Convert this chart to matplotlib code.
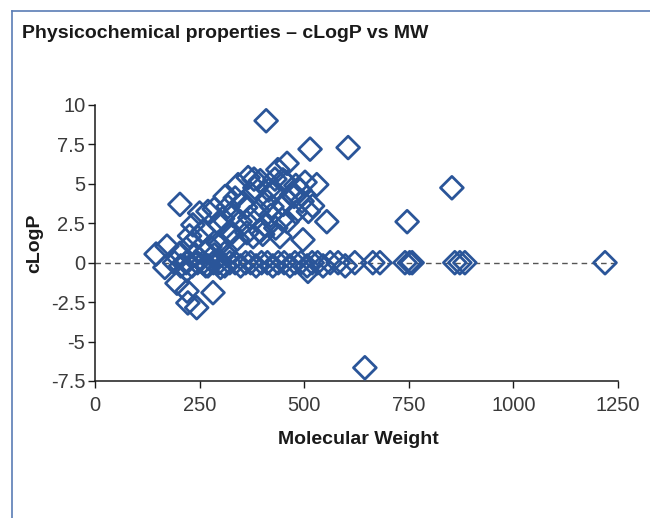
import matplotlib
matplotlib.use("Agg")
import matplotlib.pyplot as plt
from matplotlib.lines import Line2D

# ---- data ----
title = "Physicochemical properties – cLogP vs MW"
x_label = "Molecular Weight"
y_label = "cLogP"
x_ticks = [0, 250, 500, 750, 1000, 1250]
x_tick_labels = ["0", "250", "500", "750", "1000", "1250"]
y_ticks = [-7.5, -5, -2.5, 0, 2.5, 5, 7.5, 10]
y_tick_labels = ["-7.5", "-5", "-2.5", "0", "2.5", "5", "7.5", "10"]

# compounds with non-zero cLogP
mw_pos = [146, 172, 203, 203, 226, 234, 246, 250, 258, 270, 275, 285, 294, 299, 299,
          305, 311, 318, 323, 323, 330, 335, 340, 342, 347, 354, 360, 363, 366, 370,
          378, 380, 382, 390, 395, 395, 401, 406, 409, 411, 415, 420, 423, 430, 430,
          432, 437, 442, 447, 449, 450, 454, 459, 459, 470, 476, 480, 480, 490, 495,
          497, 502, 510, 514, 520, 530, 554, 605, 746, 853, 240, 265, 285, 310, 230]
clogp_pos = [0.55, 1.05, 0.6, 3.7, 1.7, 2.4, 1.6, 3.15, 2.0, 3.25, 1.0, 3.4, 1.25, 2.4, 1.15,
             2.8, 4.2, 3.55, 1.8, 2.0, 3.0, 4.1, 1.5, 4.95, 2.6, 3.8, 3.5, 1.9, 5.4, 2.85,
             1.65, 5.3, 4.75, 3.3, 5.2, 2.0, 1.8, 2.4, 9.0, 3.9, 4.6, 3.0, 3.55, 4.5, 5.3,
             2.2, 5.9, 1.65, 2.75, 5.25, 3.7, 5.15, 2.6, 6.3, 4.3, 4.2, 3.2, 4.9, 4.6, 3.9,
             1.45, 5.1, 3.25, 7.2, 3.6, 4.95, 2.6, 7.3, 2.6, 4.75, 0.5, 0.7, 0.5, 0.6, 1.2]

# compounds with negative cLogP
mw_neg = [167, 220, 196, 220, 222, 243, 282, 509, 645, 300, 265]
clogp_neg = [-0.3, -0.45, -1.3, -1.8, -2.55, -2.85, -1.9, -0.55, -6.66, -0.3, -0.2]

# compounds with cLogP reported as 0
mw_zero = [190, 205, 218, 232, 245, 258, 270, 283, 296, 310, 322, 335, 348, 360, 372,
           385, 398, 412, 425, 438, 452, 466, 478, 492, 507, 519, 532, 545, 562, 581,
           598, 621, 664, 681, 741, 752, 758, 860, 872, 884, 1219]
clogp_zero = [0, -0.2, 0, -0.2, 0, 0, -0.2, 0, 0, -0.2, 0, 0, -0.2, 0, 0,
              -0.2, 0, 0, -0.2, 0, 0, -0.2, 0, 0, -0.2, 0, 0, -0.2, 0, 0,
              -0.2, 0, 0, 0, 0, 0, 0, 0, 0, 0, 0]

mw_all = mw_pos + mw_neg + mw_zero
clogp_all = clogp_pos + clogp_neg + clogp_zero

# ---- figure ----
fig = plt.figure(figsize=(6.5, 5.18), dpi=100)
font = ["Liberation Sans", "DejaVu Sans"]

frame_col = "#5a7db5"
fig.add_artist(Line2D([12/650, 1.0], [1 - 11/518, 1 - 11/518], transform=fig.transFigure,
                      color=frame_col, lw=1.2))
fig.add_artist(Line2D([12/650, 12/650], [0, 1 - 11/518], transform=fig.transFigure,
                      color=frame_col, lw=1.2))

fig.text(22/650, 1 - 34/518, title, family=font, fontweight="bold", fontsize=14,
         color="#1a1a1a", va="center", ha="left")

ax = fig.add_axes([95/650, 1 - 381/518, (618 - 95)/650, (381 - 105)/518])
ax.set_xlim(0, 1250)
ax.set_ylim(-7.5, 10)

ax.plot([0, 1250], [0, 0], linestyle=(0, (4, 3)), color="#555555", lw=1.0, zorder=1)

ax.scatter(mw_all, clogp_all, marker="D", s=135, facecolors="none",
           edgecolors="#2a5599", linewidths=2.0, zorder=3, clip_on=False)

for side in ["top", "right"]:
    ax.spines[side].set_visible(False)
for side in ["left", "bottom"]:
    ax.spines[side].set_linewidth(1.1)
    ax.spines[side].set_color("#1a1a1a")

ax.set_xticks(x_ticks)
ax.set_xticklabels(x_tick_labels)
ax.set_yticks(y_ticks)
ax.set_yticklabels(y_tick_labels)
ax.tick_params(axis="both", direction="out", length=5, width=1.0, color="#1a1a1a",
               labelsize=14.5, labelcolor="#3a3a3a")
ax.tick_params(axis="x", pad=6)
ax.tick_params(axis="y", pad=2)
for lbl in ax.get_xticklabels() + ax.get_yticklabels():
    lbl.set_family(font)

ax.set_xlabel(x_label, family=font, fontweight="bold", fontsize=14, color="#1a1a1a")
ax.set_ylabel(y_label, family=font, fontweight="bold", fontsize=14, color="#1a1a1a")
ax.xaxis.set_label_coords((358 - 95) / 523, -(440 - 381) / 276)
ax.yaxis.set_label_coords(-(95 - 35) / 523, 0.5)
ax.xaxis.label.set_va("center")
ax.yaxis.label.set_va("center")

fig.savefig("out.png", dpi=100)
